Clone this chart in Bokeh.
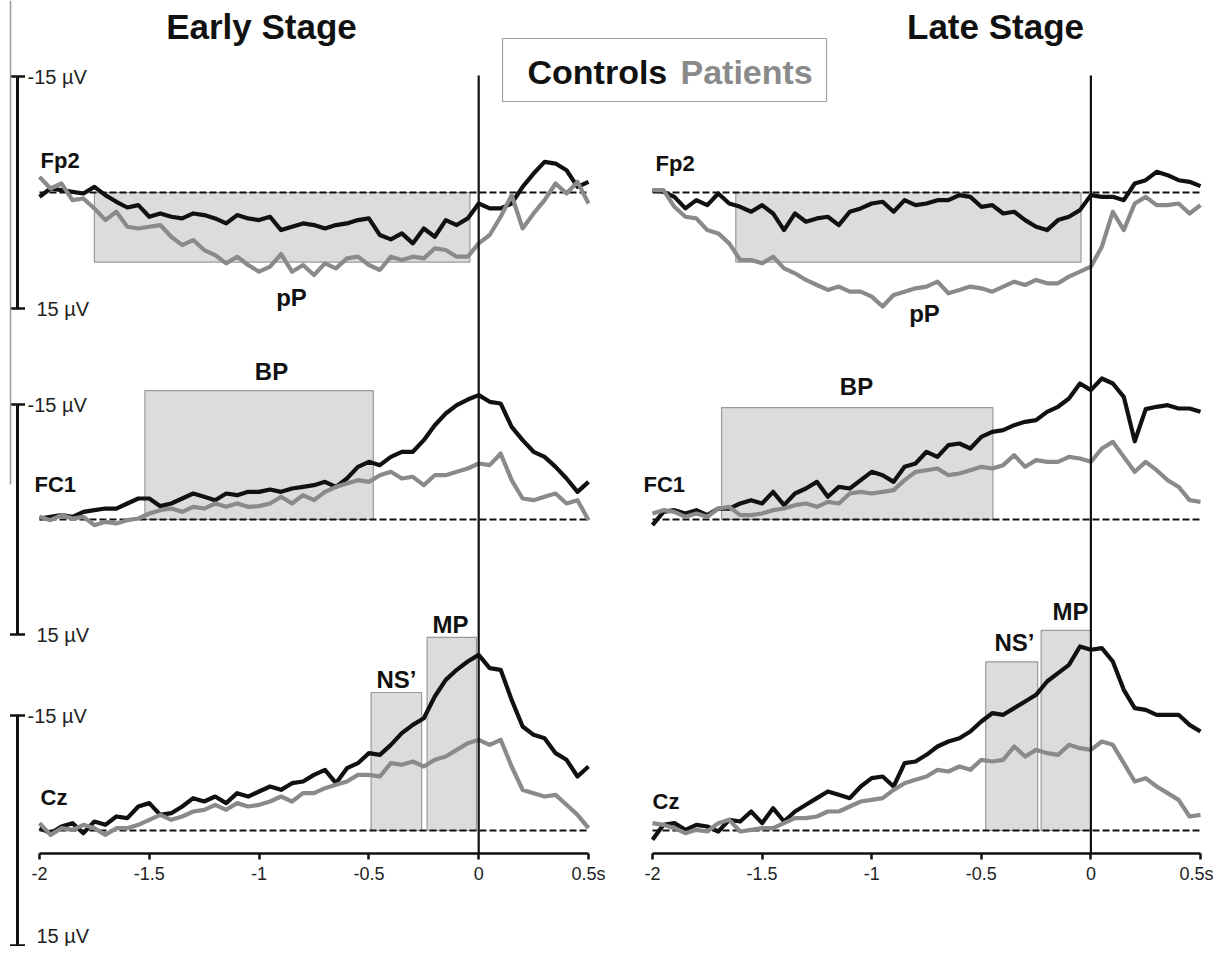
from bokeh.plotting import figure
from bokeh.models import (Range1d, LinearAxis, FixedTicker, Whisker, TeeHead,
                          Label, ColumnDataSource)
from bokeh.embed import file_html
from bokeh.resources import INLINE

# ---------------- data (µV, negative up as in the original) ----------------
TIMES = [round(-2.0 + 0.05 * i, 2) for i in range(51)]   # s, sampling grid

early_fp2_controls = [0.56, -0.52, -0.30, -0.09, 0.13, -0.73, 0.34, 1.20, 1.94, 1.63, 3.14, 2.71, 3.14, 3.35, 2.71, 2.92, 3.35, 4.00, 2.92, 3.35, 3.57, 3.14, 4.86, 4.43, 4.00, 4.21, 4.65, 4.21, 4.00, 3.57, 3.35, 5.50, 6.06, 5.29, 6.58, 4.65, 5.72, 3.57, 4.21, 3.35, 1.42, 2.06, 2.06, 1.42, -0.73, -2.45, -3.96, -3.74, -2.88, -0.73, -1.38]
early_fp2_patients = [-2.02, -0.52, -1.16, 0.99, 0.77, 2.06, 3.57, 2.49, 4.43, 4.65, 4.43, 4.21, 5.72, 6.80, 6.15, 7.44, 8.09, 9.16, 8.30, 9.38, 10.24, 9.59, 7.96, 10.24, 9.38, 10.67, 9.16, 9.81, 8.52, 8.30, 9.38, 10.02, 8.30, 8.73, 8.30, 8.52, 7.23, 7.44, 8.30, 8.30, 6.58, 5.50, 3.14, 0.34, 4.65, 2.71, 0.99, -1.16, 0.13, -1.38, 1.42]
early_fc1_controls = [-0.13, -0.35, -0.57, -0.35, -1.00, -1.22, -1.43, -1.43, -2.09, -2.74, -2.74, -1.74, -2.09, -2.74, -3.39, -2.96, -2.52, -3.39, -3.17, -3.61, -3.61, -3.91, -3.61, -4.04, -4.26, -4.48, -4.91, -4.26, -5.35, -6.87, -7.52, -7.09, -8.17, -8.83, -8.83, -10.35, -12.30, -13.83, -14.91, -15.65, -16.22, -15.35, -15.13, -12.09, -10.35, -8.83, -8.17, -6.87, -5.35, -3.61, -4.91]
early_fc1_patients = [-0.35, 0.09, -0.57, -0.13, -0.35, 0.74, 0.30, 0.52, 0.09, -0.13, -0.78, -1.22, -1.43, -1.00, -1.65, -1.43, -2.09, -1.65, -2.09, -1.65, -1.74, -2.09, -2.96, -2.09, -3.17, -2.52, -3.61, -4.26, -4.70, -5.13, -4.91, -5.78, -6.22, -5.35, -5.57, -4.48, -5.78, -5.78, -6.22, -6.65, -7.30, -7.09, -8.61, -5.13, -2.74, -2.52, -2.96, -3.39, -2.09, -2.52, 0.09]
early_cz_controls = [-0.30, 0.35, -0.52, -0.96, 0.35, -1.17, -0.74, -1.83, -1.61, -3.13, -3.57, -2.04, -2.26, -3.13, -4.22, -3.78, -4.43, -3.57, -4.87, -4.43, -5.09, -5.74, -5.30, -6.17, -6.39, -7.26, -7.91, -6.17, -8.13, -8.78, -10.09, -9.87, -11.17, -12.70, -13.78, -14.65, -17.48, -19.65, -20.96, -22.04, -22.91, -21.17, -20.96, -17.04, -13.57, -12.48, -12.04, -10.09, -9.22, -7.04, -8.35]
early_cz_patients = [-0.96, 0.57, -0.30, -0.09, -0.74, -0.30, 0.57, -0.30, -0.30, -0.74, -1.39, -2.04, -1.39, -1.83, -2.48, -2.70, -3.35, -2.70, -3.57, -3.13, -3.35, -3.78, -4.43, -3.78, -4.87, -4.87, -5.52, -5.96, -6.39, -7.26, -7.26, -7.04, -8.78, -8.57, -9.00, -8.35, -9.22, -9.65, -10.52, -11.39, -11.83, -11.17, -11.83, -8.35, -5.30, -4.87, -4.43, -4.65, -3.35, -2.04, -0.30]

late_fp2_controls = [-0.30, -0.09, 0.56, 2.06, 0.99, 1.63, 0.13, 1.42, 1.85, 2.49, 1.63, 2.71, 4.86, 2.71, 3.78, 3.35, 3.14, 4.21, 2.49, 2.06, 1.42, 1.20, 2.49, 0.99, 1.63, 1.42, 0.99, 0.99, 0.34, 0.56, 1.85, 1.63, 2.71, 2.49, 3.57, 4.43, 4.86, 3.57, 3.14, 2.28, 0.34, 0.56, 0.56, 0.99, -1.16, -1.59, -2.67, -2.24, -1.59, -1.38, -0.82]
late_fp2_patients = [-0.30, -0.30, 1.85, 3.14, 3.35, 4.86, 5.29, 6.58, 8.73, 8.73, 9.16, 8.30, 9.81, 10.45, 11.31, 11.96, 12.60, 12.17, 12.82, 12.82, 13.46, 14.75, 13.25, 12.82, 12.39, 12.17, 11.53, 13.03, 12.60, 12.17, 12.39, 12.82, 12.17, 11.53, 11.96, 11.31, 11.74, 11.74, 10.88, 10.24, 9.59, 7.01, 2.49, 4.86, 1.42, 0.56, 1.63, 1.63, 1.42, 2.71, 1.63]
late_fc1_controls = [0.74, -1.00, -1.22, -0.78, -1.22, -0.57, -1.43, -1.43, -2.09, -2.52, -2.09, -3.61, -1.87, -3.39, -4.04, -4.91, -2.96, -4.26, -4.04, -5.13, -6.22, -5.78, -4.91, -6.87, -7.30, -8.83, -8.17, -9.70, -9.91, -9.26, -10.78, -11.43, -11.65, -12.30, -12.74, -12.96, -14.04, -14.70, -15.78, -17.74, -16.87, -18.39, -17.74, -16.00, -10.20, -14.40, -14.70, -14.91, -14.48, -14.48, -14.04]
late_fc1_patients = [-0.78, -1.22, -1.00, -0.35, -0.78, -0.35, -1.43, -1.65, -0.57, -0.57, -0.78, -1.22, -1.43, -1.87, -2.09, -1.65, -2.30, -2.09, -3.39, -3.61, -3.39, -3.61, -3.83, -5.13, -6.22, -6.43, -6.65, -5.78, -6.00, -6.43, -6.87, -6.65, -7.09, -8.39, -6.87, -7.74, -7.52, -7.52, -8.17, -7.96, -7.52, -9.26, -10.13, -8.17, -6.22, -7.52, -6.43, -5.13, -4.26, -2.52, -2.30]
late_cz_controls = [1.22, -0.74, -0.96, -0.09, -0.74, -0.52, 0.13, -1.39, -1.17, -2.48, -0.96, -2.91, -1.17, -2.48, -3.35, -4.22, -5.09, -4.65, -4.22, -5.74, -6.83, -7.04, -5.74, -8.78, -9.00, -9.87, -10.96, -11.61, -12.04, -12.91, -14.22, -15.30, -15.09, -15.96, -16.83, -17.70, -19.43, -20.52, -21.61, -24.00, -23.57, -23.78, -22.04, -18.35, -15.96, -15.74, -15.09, -15.09, -15.09, -13.78, -12.91]
late_cz_patients = [-0.96, -0.74, -0.30, 0.35, -0.09, 0.13, -0.96, -1.39, 0.13, -0.09, -0.30, -0.30, -0.96, -1.61, -1.61, -1.83, -2.48, -2.48, -3.13, -3.78, -4.00, -4.22, -5.30, -6.17, -6.61, -7.04, -7.91, -7.70, -8.35, -7.91, -9.22, -9.00, -9.22, -10.96, -9.65, -10.52, -10.09, -9.87, -11.17, -10.74, -10.52, -11.61, -11.17, -8.78, -6.39, -6.83, -5.74, -4.87, -4.00, -1.83, -2.04]

# analysis windows: (name, channel, t_start, t_end, depth µV)
early_windows = [("pP", "fp2", -1.75, -0.04, 9.0), ("BP", "fc1", -1.52, -0.48, -16.8),
                 ("NS’", "cz", -0.49, -0.26, -18.0), ("MP", "cz", -0.235, -0.01, -25.2)]
late_windows = [("pP", "fp2", -1.62, -0.045, 9.0), ("BP", "fc1", -1.685, -0.447, -14.6),
                ("NS’", "cz", -0.48, -0.243, -22.0), ("MP", "cz", -0.227, 0.0, -26.1)]

TICKS = [-2.0, -1.5, -1.0, -0.5, 0.0, 0.5]
TICK_TEXT = ["-2", "-1.5", "-1", "-0.5", "0", "0.5s"]
CHANNELS = ["fp2", "fc1", "cz"]
CHANNEL_NAMES = {"fp2": "Fp2", "fc1": "FC1", "cz": "Cz"}
GROUPS = ["Controls", "Patients"]

# ---------------- layout helpers (canvas pixels) ----------------
W, H = 1213, 946
AXIS_Y = 853
SCALE_PX = {"fp2": (76, 308), "fc1": (404, 634), "cz": (715, 945)}   # -15 / +15 µV


def early_t(px):
    return -2 + (px - 39) / 219.6


def late_t(px):
    return -2 + (px - 652) / 219.2


def chan_k_c(ch):
    a, b = SCALE_PX[ch]
    return (b - a) / 30.0, (a + b) / 2.0


def chan_v(ch, py):
    k, c = chan_k_c(ch)
    return (py - c) / k


def chan_range(ch):
    return Range1d(start=chan_v(ch, H), end=chan_v(ch, 0))


CTRL = "#111111"
PAT = "#8a8a8a"
FONT = "Liberation Sans"
CURVE_W = 4.2

p = figure(width=W, height=H,
           x_range=Range1d(early_t(0), early_t(W)),
           y_range=chan_range("cz"),
           x_axis_location=None, y_axis_location=None,
           toolbar_location=None, output_backend="svg",
           min_border_left=0, min_border_right=0, min_border_top=0, min_border_bottom=0)
p.extra_x_ranges = {"late": Range1d(late_t(0), late_t(W))}
p.extra_y_ranges = {ch: chan_range(ch) for ch in CHANNELS}
p.outline_line_color = None
p.background_fill_color = "white"
p.border_fill_color = "white"
p.grid.grid_line_color = None

panels = {
    "early": dict(xr="default", windows=early_windows,
                  data={"fp2": (early_fp2_controls, early_fp2_patients),
                        "fc1": (early_fc1_controls, early_fc1_patients),
                        "cz": (early_cz_controls, early_cz_patients)}),
    "late": dict(xr="late", windows=late_windows,
                 data={"fp2": (late_fp2_controls, late_fp2_patients),
                       "fc1": (late_fc1_controls, late_fc1_patients),
                       "cz": (late_cz_controls, late_cz_patients)}),
}

for name, pan in panels.items():
    xr = pan["xr"]
    # time axis of this panel, drawn inside the frame at a fixed location
    ax = LinearAxis(x_range_name=xr, y_range_name="cz",
                    fixed_location=chan_v("cz", AXIS_Y),
                    bounds=(TICKS[0], TICKS[-1]),
                    ticker=FixedTicker(ticks=TICKS, minor_ticks=[]),
                    major_label_overrides=dict(zip(TICKS, TICK_TEXT)),
                    axis_line_color=CTRL, axis_line_width=2.5,
                    major_tick_in=0, major_tick_out=6,
                    major_tick_line_width=2.5, major_tick_line_color=CTRL,
                    minor_tick_line_color=None,
                    major_label_text_font=FONT, major_label_text_font_size="18px",
                    major_label_text_color="#222222", major_label_standoff=4)
    p.add_layout(ax, "below")
    # windows
    for (lab, ch, t0, t1, depth) in pan["windows"]:
        p.quad(left=[t0], right=[t1], top=[0], bottom=[depth], x_range_name=xr,
               y_range_name=ch, fill_color="#dcdcdc", line_color="#9a9a9a", line_width=1.2)
    # baselines
    for ch in CHANNELS:
        p.line(x=[TIMES[0], TIMES[-1]], y=[0, 0], x_range_name=xr, y_range_name=ch,
               line_color=CTRL, line_width=2, line_dash="7 3")
    # curves
    for ch in CHANNELS:
        ctrl, pat = pan["data"][ch]
        src = ColumnDataSource(dict(t=TIMES, c=ctrl, p=pat))
        p.line("t", "c", source=src, x_range_name=xr, y_range_name=ch,
               line_color=CTRL, line_width=CURVE_W, line_join="round")
        p.line("t", "p", source=src, x_range_name=xr, y_range_name=ch,
               line_color=PAT, line_width=CURVE_W, line_join="round")
    # movement onset line
    p.segment(x0=[0], x1=[0], y0=[chan_v("fp2", 75)], y1=[chan_v("fp2", AXIS_Y)],
              x_range_name=xr, y_range_name="fp2", line_color=CTRL, line_width=2.2)

# window labels (canvas px positions)
win_labels = [("pP", "default", early_t(291), "fp2", 297), ("BP", "default", early_t(271), "fc1", 371),
              ("NS’", "default", early_t(396), "cz", 679), ("MP", "default", early_t(450), "cz", 624),
              ("pP", "late", late_t(924), "fp2", 313), ("BP", "late", late_t(856), "fc1", 386),
              ("NS’", "late", late_t(1014), "cz", 642), ("MP", "late", late_t(1070), "cz", 611)]
for txt, xr, x, ch, py in win_labels:
    p.add_layout(Label(x=x, y=chan_v(ch, py), x_range_name=xr, y_range_name=ch, text=txt,
                       text_align="center", text_baseline="middle", text_font=FONT,
                       text_font_size="24px", text_font_style="bold", text_color=CTRL))

# channel labels
ch_labels = [("fp2", "default", early_t(40), 160), ("fc1", "default", early_t(34), 484),
             ("cz", "default", early_t(40), 797),
             ("fp2", "late", late_t(655), 163), ("fc1", "late", late_t(643), 484),
             ("cz", "late", late_t(652), 801)]
for ch, xr, x, py in ch_labels:
    p.add_layout(Label(x=x, y=chan_v(ch, py), x_range_name=xr, y_range_name=ch,
                       text=CHANNEL_NAMES[ch], text_align="left", text_baseline="middle",
                       text_font=FONT, text_font_size="22px", text_font_style="bold",
                       text_color=CTRL))

# µV scale bars
bar_x = early_t(17)
for ch in CHANNELS:
    sb = ColumnDataSource(dict(base=[bar_x], lo=[-15], hi=[15]))
    p.add_layout(Whisker(source=sb, base="base", lower="lo", upper="hi", dimension="height",
                         y_range_name=ch, line_color=CTRL, line_width=3,
                         lower_head=TeeHead(size=15, line_width=2.5, line_color=CTRL),
                         upper_head=TeeHead(size=15, line_width=2.5, line_color=CTRL)))
    p.add_layout(Label(x=early_t(27), y=-15, y_range_name=ch, text="-15 µV",
                       text_align="left", text_baseline="middle", text_font=FONT,
                       text_font_size="20px", text_color="#222222"))
    low_y = 15 if ch != "cz" else chan_v("cz", 935)
    p.add_layout(Label(x=early_t(36), y=low_y, y_range_name=ch, text="15 µV",
                       text_align="left", text_baseline="middle", text_font=FONT,
                       text_font_size="20px", text_color="#222222"))

# thin gray frame remnant at far left
p.segment(x0=[early_t(10)], x1=[early_t(10)], y0=[chan_v("fp2", 0)], y1=[chan_v("fp2", 484)],
          y_range_name="fp2", line_color="#9a9a9a", line_width=1.5)

# panel titles
p.add_layout(Label(x=early_t(261), y=chan_v("fp2", 26), y_range_name="fp2", text="Early Stage",
                   text_align="center", text_baseline="middle", text_font=FONT,
                   text_font_size="35px", text_font_style="bold", text_color=CTRL))
p.add_layout(Label(x=late_t(995), y=chan_v("fp2", 26), x_range_name="late", y_range_name="fp2",
                   text="Late Stage", text_align="center", text_baseline="middle", text_font=FONT,
                   text_font_size="35px", text_font_style="bold", text_color=CTRL))

# group key box
p.quad(left=[early_t(502)], right=[early_t(826)], top=[chan_v("fp2", 38)],
       bottom=[chan_v("fp2", 101)], y_range_name="fp2",
       fill_color="white", line_color="#a0a0a0", line_width=1.2)
p.add_layout(Label(x=early_t(527), y=chan_v("fp2", 71), y_range_name="fp2", text=GROUPS[0],
                   text_align="left", text_baseline="middle", text_font=FONT,
                   text_font_size="34px", text_font_style="bold", text_color=CTRL))
p.add_layout(Label(x=early_t(680), y=chan_v("fp2", 71), y_range_name="fp2", text=GROUPS[1],
                   text_align="left", text_baseline="middle", text_font=FONT,
                   text_font_size="34px", text_font_style="bold", text_color=PAT))

open("out.html", "w").write(file_html(p, INLINE))
